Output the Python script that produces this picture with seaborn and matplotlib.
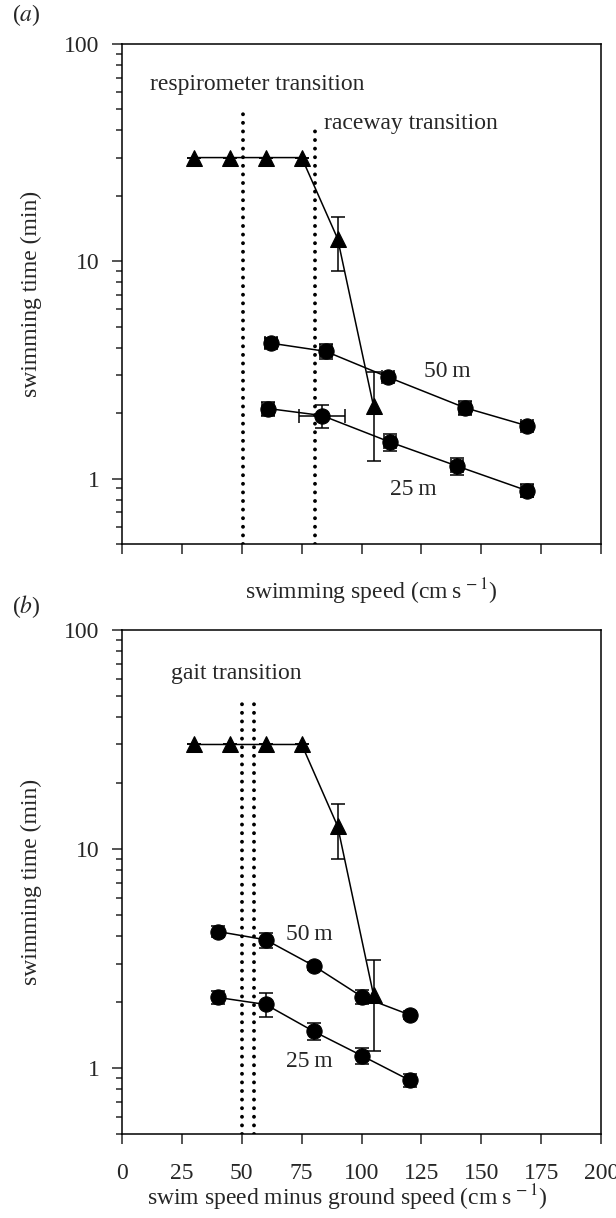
import numpy as np
import matplotlib
matplotlib.use("Agg")
import matplotlib.pyplot as plt
import seaborn as sns

sns.set_style("ticks")
plt.rcParams['font.family'] = ['Liberation Serif', 'DejaVu Serif']
plt.rcParams['mathtext.fontset'] = 'stix'
FS = 17
plt.rcParams['font.size'] = FS

# triangles (both panels)
tri_speed = [30, 45, 60, 75, 90, 105]
tri_time = [30, 30, 30, 30, 12.7, 2.15]
tri_err_lo = [0, 0, 0, 0, 3.7, 0.95]
tri_err_hi = [0, 0, 0, 0, 3.3, 0.95]

# 50 m and 25 m trials
time_50 = [4.2, 3.85, 2.93, 2.12, 1.75]
err_50 = [0.23, 0.3, 0.12, 0.15, 0.08]
time_25 = [2.1, 1.95, 1.47, 1.14, 0.88]
err_25 = [0.15, 0.24, 0.13, 0.1, 0.06]

# panel a: swimming speed
speed_a_50 = [62, 85, 111, 143, 169]
xerr_a_50 = [2.5, 2.5, 2.5, 2.5, 2.5]
speed_a_25 = [61, 83.5, 112, 140, 169]
xerr_a_25 = [2.5, 9.5, 2.5, 2.5, 2.5]

# panel b: swim speed minus ground speed
speed_b = [40, 60, 80, 100, 120]

# transitions (speed, top of dotted line)
resp_transition = [50.5, 50]
raceway_transition = [80.5, 41]
gait_transition = [[50, 48], [55, 48]]

xticks = [0, 25, 50, 75, 100, 125, 150, 175, 200]
yticks = [1, 10, 100]
ytick_labels = ['1', '10', '100']

fig = plt.figure(figsize=(6.16, 12.18), dpi=100)
ax_a = fig.add_axes([0.198, 0.5534, 0.778, 0.4105])
ax_b = fig.add_axes([0.198, 0.069, 0.778, 0.4138])

ebkw = dict(fmt='none', ecolor='k', elinewidth=1.1, capsize=5, capthick=1.1, zorder=2)
lkw = dict(color='k', linewidth=1.1, markersize=11, markeredgecolor='k', zorder=3, legend=False)


def dotted(ax, x, top):
    ax.plot([x, x], [0.5, top], color='k', linewidth=2.8,
            linestyle=(0, (0.01, 2.2)), dash_capstyle='round', zorder=1)


def common(ax):
    ax.set_yscale('log')
    ax.set_ylim(0.5, 100)
    ax.set_xlim(0, 200)
    ax.set_xticks(xticks)
    ax.set_yticks(yticks)
    ax.set_yticklabels(ytick_labels)
    ax.yaxis.set_minor_formatter(matplotlib.ticker.NullFormatter())
    ax.tick_params(axis='both', which='major', direction='out', length=7, width=1.1, labelsize=FS)
    ax.tick_params(axis='y', which='major', pad=9)
    ax.tick_params(axis='x', which='major', pad=14)
    ax.tick_params(axis='y', which='minor', direction='out', length=4, width=1.1)
    for s in ax.spines.values():
        s.set_linewidth(1.1)
        s.set_color('k')
    ax.set_ylabel('swimming time (min)', fontsize=FS)
    ax.yaxis.set_label_coords(-0.19, 0.5)
    ax.yaxis.label.set_va('center')
    # triangles
    ax.errorbar(tri_speed, tri_time, yerr=[tri_err_lo, tri_err_hi], **ebkw)
    sns.lineplot(x=tri_speed, y=tri_time, marker='^', ax=ax, **{**lkw, 'markersize': 11})


# panel a
ax = ax_a
common(ax)
dotted(ax, *resp_transition)
dotted(ax, *raceway_transition)
ax.errorbar(speed_a_50, time_50, yerr=err_50, xerr=xerr_a_50, **ebkw)
ax.errorbar(speed_a_25, time_25, yerr=err_25, xerr=xerr_a_25, **ebkw)
sns.lineplot(x=speed_a_50, y=time_50, marker='o', ax=ax, **lkw)
sns.lineplot(x=speed_a_25, y=time_25, marker='o', ax=ax, **lkw)
ax.set_xticklabels([])
ax.set_xlabel('swimming speed (cm\u2009s$^{\\,-1}$)', fontsize=FS)
ax.xaxis.set_label_coords(0.52, -0.096)
ax.xaxis.label.set_va('center')
ax.text(11.5, 65, 'respirometer transition', fontsize=FS, va='center')
ax.text(84.5, 43, 'raceway transition', fontsize=FS, va='center')
ax.text(126, 3.1, '50\u2009m', fontsize=FS, va='center')
ax.text(112, 0.89, '25\u2009m', fontsize=FS, va='center')
fig.text(0.02, 0.988, '($\\it{a}$)', fontsize=FS, va='center')

# panel b
ax = ax_b
common(ax)
for x, top in gait_transition:
    dotted(ax, x, top)
ax.errorbar(speed_b, time_50, yerr=err_50, **ebkw)
ax.errorbar(speed_b, time_25, yerr=err_25, **ebkw)
sns.lineplot(x=speed_b, y=time_50, marker='o', ax=ax, **lkw)
sns.lineplot(x=speed_b, y=time_25, marker='o', ax=ax, **lkw)
ax.set_xlabel('swim speed minus ground speed (cm\u2009s$^{\\,-1}$)', fontsize=FS)
ax.xaxis.set_label_coords(0.47, -0.127)
ax.xaxis.label.set_va('center')
ax.text(20.5, 63, 'gait transition', fontsize=FS, va='center')
ax.text(68.5, 4.07, '50\u2009m', fontsize=FS, va='center')
ax.text(68.5, 1.07, '25\u2009m', fontsize=FS, va='center')
fig.text(0.02, 0.502, '($\\it{b}$)', fontsize=FS, va='center')

fig.savefig('out.png', dpi=100)
